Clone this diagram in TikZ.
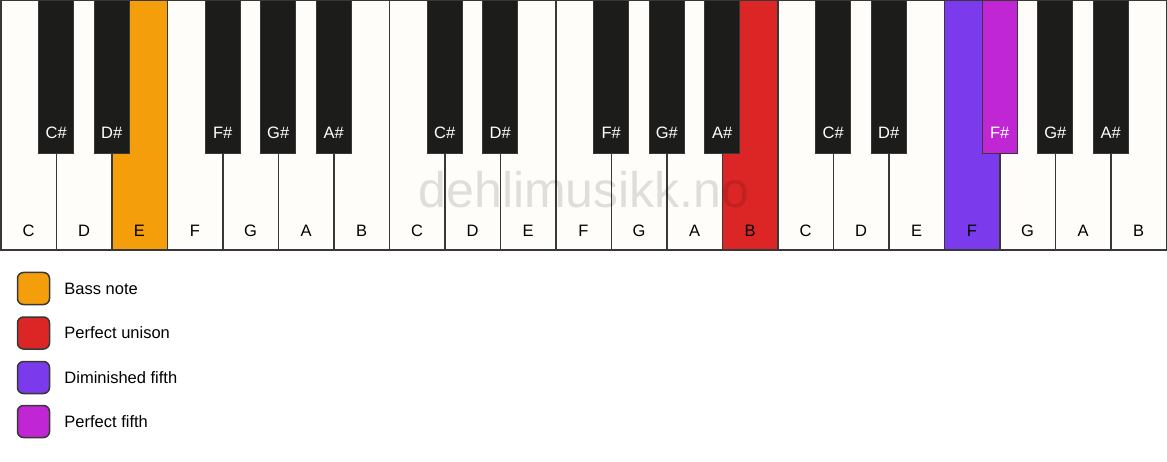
\documentclass[tikz,border=0pt]{standalone}
\usepackage{fontspec}
\setmainfont{Liberation Sans}
\usetikzlibrary{positioning}
\definecolor{ivory}{HTML}{FFFDFA}
\definecolor{keyblack}{HTML}{1C1C1A}
\definecolor{keyline}{HTML}{383838}
\definecolor{bassorange}{HTML}{F59E0B}
\definecolor{unisonred}{HTML}{DC2626}
\definecolor{dimpurple}{HTML}{7C3AED}
\definecolor{fifthpink}{HTML}{C026D3}

\tikzset{
  whitekey/.style={draw=keyline,line width=1.5pt,fill=ivory,text width=55.5pt,align=center,inner sep=0pt,text height=235.5pt,text depth=14pt},
  blackkey/.style={draw=keyline,line width=1pt,fill=keyblack,text=white,text width=35pt,align=center,inner sep=0pt,text height=137.75pt,text depth=14.5pt},
  legendbox/.style={draw=keyline,line width=1.5pt,rounded corners=6pt,minimum size=32pt,inner sep=0pt},
  legendtext/.style={inner sep=0pt,anchor=west}
}

\begin{document}
\begin{tikzpicture}[x=1pt,y=1pt,font=\fontsize{16.5}{20}\selectfont]
   \useasboundingbox (0,0) rectangle (1167,461);
   % white keys
   \node[whitekey] (c1) at (28.5,335.5) {C};
   \node[whitekey] (d1) at (84,335.5) {D};
   \node[whitekey,fill=bassorange] (e1) at (139.5,335.5) {E};
   \node[whitekey] (f1) at (195,335.5) {F};
   \node[whitekey] (g1) at (250.5,335.5) {G};
   \node[whitekey] (a1) at (306,335.5) {A};
   \node[whitekey] (b1) at (361.5,335.5) {B};
   \node[whitekey] (c2) at (417,335.5) {C};
   \node[whitekey] (d2) at (472.5,335.5) {D};
   \node[whitekey] (e2) at (528,335.5) {E};
   \node[whitekey] (f2) at (583.5,335.5) {F};
   \node[whitekey] (g2) at (639,335.5) {G};
   \node[whitekey] (a2) at (694.5,335.5) {A};
   \node[whitekey,fill=unisonred] (b2) at (750,335.5) {B};
   \node[whitekey] (c3) at (805.5,335.5) {C};
   \node[whitekey] (d3) at (861,335.5) {D};
   \node[whitekey] (e3) at (916.5,335.5) {E};
   \node[whitekey,fill=dimpurple] (f3) at (972,335.5) {F};
   \node[whitekey] (g3) at (1027.5,335.5) {G};
   \node[whitekey] (a3) at (1083,335.5) {A};
   \node[whitekey] (b3) at (1138.5,335.5) {B};
   % black keys
   \node[blackkey] (cs1) at (56.25,384.1) {C\#};
   \node[blackkey] (ds1) at (111.75,384.1) {D\#};
   \node[blackkey] (fs1) at (222.75,384.1) {F\#};
   \node[blackkey] (gs1) at (278.25,384.1) {G\#};
   \node[blackkey] (as1) at (333.75,384.1) {A\#};
   \node[blackkey] (cs2) at (444.75,384.1) {C\#};
   \node[blackkey] (ds2) at (500.25,384.1) {D\#};
   \node[blackkey] (fs2) at (611.25,384.1) {F\#};
   \node[blackkey] (gs2) at (666.75,384.1) {G\#};
   \node[blackkey] (as2) at (722.25,384.1) {A\#};
   \node[blackkey] (cs3) at (833.25,384.1) {C\#};
   \node[blackkey] (ds3) at (888.75,384.1) {D\#};
   \node[blackkey,fill=fifthpink] (fs3) at (999.75,384.1) {F\#};
   \node[blackkey] (gs3) at (1055.25,384.1) {G\#};
   \node[blackkey] (as3) at (1110.75,384.1) {A\#};
   % watermark
   \node[text=black,text opacity=0.12,font=\fontsize{50}{54}\selectfont,anchor=base] (watermark) at (584,253) {dehlimusikk.no};
   % legend
   \node[legendbox,fill=bassorange] (bass) at (33.5,172.5) {};
   \node[legendbox,fill=unisonred] (unison) at (33.5,128) {};
   \node[legendbox,fill=dimpurple] (dimfifth) at (33.5,83.5) {};
   \node[legendbox,fill=fifthpink] (perfifth) at (33.5,39.5) {};
   \node[legendtext,right=14pt of bass] (basstext) {Bass note};
   \node[legendtext,right=14pt of unison] (unisontext) {Perfect unison};
   \node[legendtext,right=14pt of dimfifth] (dimfifthtext) {Diminished fifth};
   \node[legendtext,right=14pt of perfifth] (perfifthtext) {Perfect fifth};
  \end{tikzpicture}
\end{document}
